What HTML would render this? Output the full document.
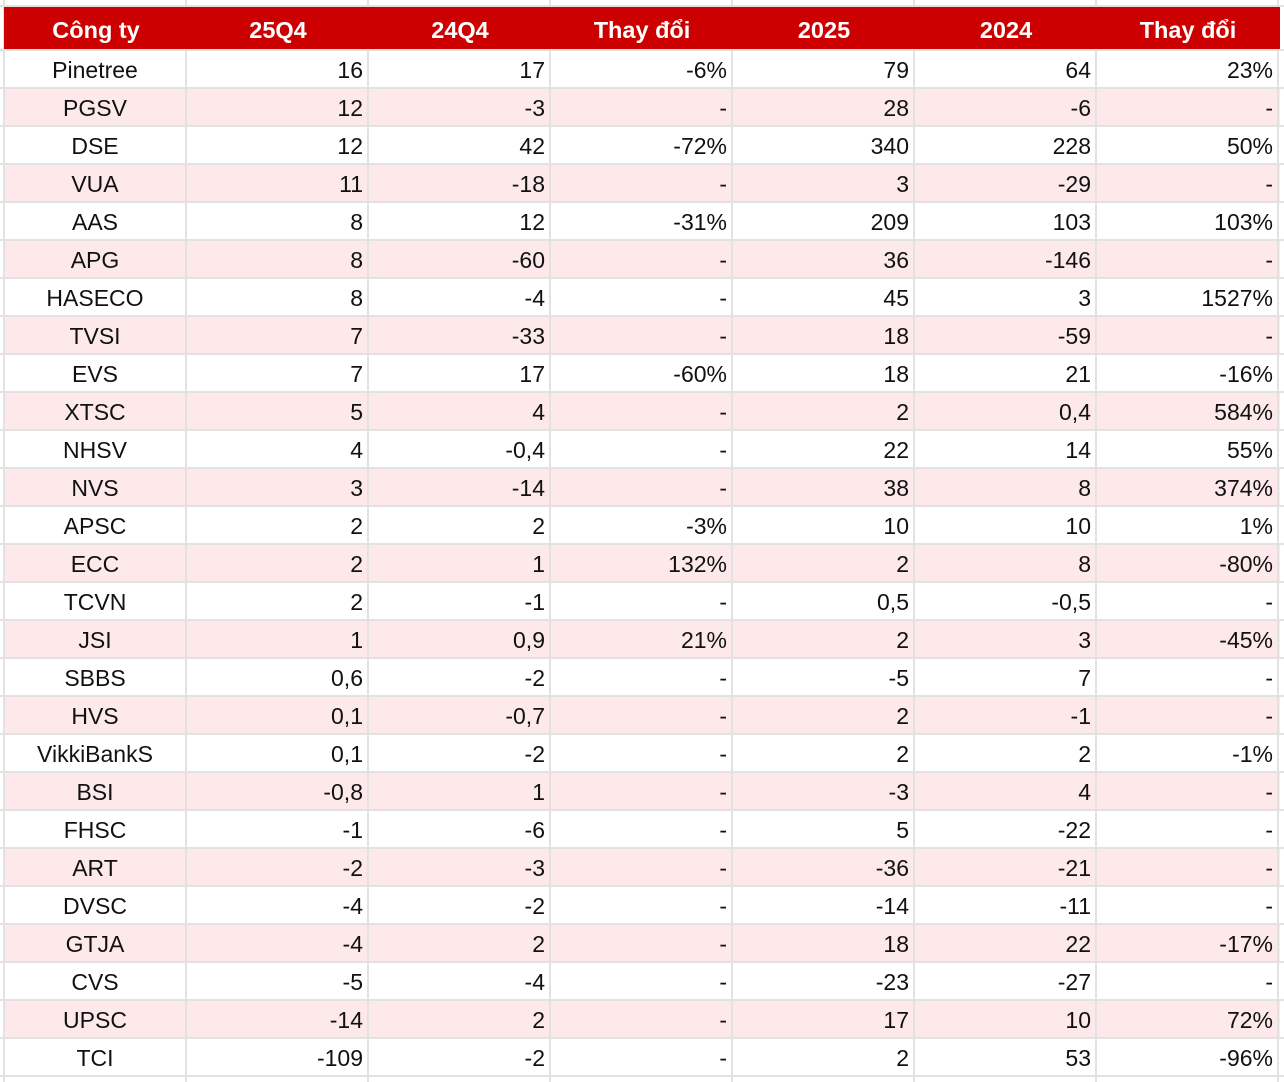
<!DOCTYPE html>
<html><head><meta charset="utf-8"><style>
body{margin:0;width:1284px;height:1082px;background:#fff;position:relative;overflow:hidden;font-family:"Liberation Sans",Arial,sans-serif;}
.vl{position:absolute;top:0;height:1082px;width:2px;background:#e2e2e2}
.hl{position:absolute;left:0;width:1284px;height:2px;background:#e2e2e2}
.hd{position:absolute;left:4px;top:7px;width:1276px;height:42px;background:#cc0000}
.c{position:absolute;font-size:23px;line-height:38px;height:38px;color:#111;white-space:nowrap}
.h{color:#fff;font-weight:bold;font-size:23.5px;line-height:42px;height:42px;text-align:center}
.pk{position:absolute;left:4px;width:1276px;height:36px;background:#fde9e9}
</style></head><body>
<div id="root"></div>
<script>
var cols=[4,186,368,550,732,914,1096,1278];
var hdr=["Công ty","25Q4","24Q4","Thay đổi","2025","2024","Thay đổi"];
var data=[
["Pinetree","16","17","-6%","79","64","23%"],
["PGSV","12","-3","-","28","-6","-"],
["DSE","12","42","-72%","340","228","50%"],
["VUA","11","-18","-","3","-29","-"],
["AAS","8","12","-31%","209","103","103%"],
["APG","8","-60","-","36","-146","-"],
["HASECO","8","-4","-","45","3","1527%"],
["TVSI","7","-33","-","18","-59","-"],
["EVS","7","17","-60%","18","21","-16%"],
["XTSC","5","4","-","2","0,4","584%"],
["NHSV","4","-0,4","-","22","14","55%"],
["NVS","3","-14","-","38","8","374%"],
["APSC","2","2","-3%","10","10","1%"],
["ECC","2","1","132%","2","8","-80%"],
["TCVN","2","-1","-","0,5","-0,5","-"],
["JSI","1","0,9","21%","2","3","-45%"],
["SBBS","0,6","-2","-","-5","7","-"],
["HVS","0,1","-0,7","-","2","-1","-"],
["VikkiBankS","0,1","-2","-","2","2","-1%"],
["BSI","-0,8","1","-","-3","4","-"],
["FHSC","-1","-6","-","5","-22","-"],
["ART","-2","-3","-","-36","-21","-"],
["DVSC","-4","-2","-","-14","-11","-"],
["GTJA","-4","2","-","18","22","-17%"],
["CVS","-5","-4","-","-23","-27","-"],
["UPSC","-14","2","-","17","10","72%"],
["TCI","-109","-2","-","2","53","-96%"]];
var h="";
for(var r=0;r<data.length;r++){var y=50+r*38;if(r%2==1)h+='<div class="pk" style="top:'+(y+1)+'px"></div>';}
for(var i=0;i<cols.length;i++)h+='<div class="vl" style="left:'+(cols[i]-1)+'px"></div>';
h+='<div class="hl" style="top:5px"></div>';
for(var r=0;r<=data.length;r++)h+='<div class="hl" style="top:'+(49+r*38)+'px"></div>';
h+='<div class="hd"></div>';
for(var i=0;i<7;i++)h+='<div class="c h" style="left:'+(cols[i]+1)+'px;top:9px;width:'+(cols[i+1]-cols[i])+'px">'+hdr[i]+'</div>';
for(var r=0;r<data.length;r++){var y=51+r*38;
for(var i=0;i<7;i++){var w=cols[i+1]-cols[i];
if(i==0)h+='<div class="c" style="left:'+cols[i]+'px;top:'+y+'px;width:'+w+'px;text-align:center">'+data[r][i]+'</div>';
else h+='<div class="c" style="left:'+cols[i]+'px;top:'+y+'px;width:'+(w-5)+'px;text-align:right">'+data[r][i]+'</div>';}}
document.getElementById("root").innerHTML=h;
</script>
</body></html>
